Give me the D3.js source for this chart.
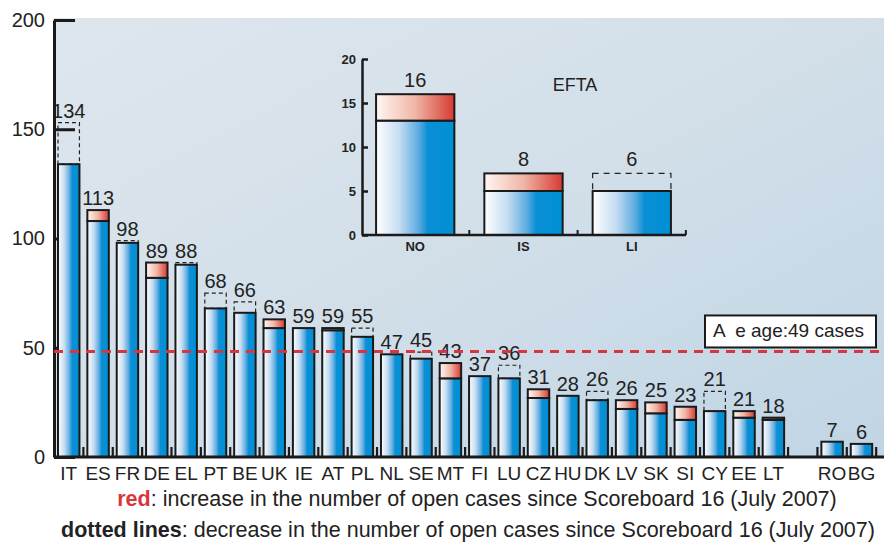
<!DOCTYPE html>
<html>
<head>
<meta charset="utf-8">
<script src="https://cdn.jsdelivr.net/npm/d3@7"></script>
<style>
  body { margin: 0; background: #fff; }
  svg { display: block; font-family: "Liberation Sans Narrow", "Liberation Sans", Arial, sans-serif; }
</style>
</head>
<body>
<svg></svg>
<script>
// EU member states, open cases now and at Scoreboard 16
let countries = ["IT","ES","FR","DE","EL","PT","BE","UK","IE","AT","PL","NL","SE","MT","FI","LU","CZ","HU","DK","LV","SK","SI","CY","EE","LT","RO","BG"];
let current  = [134,113,98,89,88,68,66,63,59,59,55,47,45,43,37,36,31,28,26,26,25,23,21,21,18,7,6];
let previous = [153,108,99,82,89,75,71,59,59,58,59,47,48,36,37,42,27,28,30,22,20,17,30,18,17,7,6];
let yTicks = [0, 50, 100, 150, 200];
let averageLine = 48.3;
let averageText = "A  e age:49 cases";

// EFTA inset
let eftaCountries = ["NO","IS","LI"];
let eftaCurrent  = [16, 7, 5];
let eftaPrevious = [13, 5, 7];
let eftaLabels   = ["16", "8", "6"];
let eftaTicks = [0, 5, 10, 15, 20];

let width = 884;
let height = 548;

let svg = d3.select("svg").attr("width", width).attr("height", height);
let defs = svg.append("defs");

function makeGradient(id, stops, x2, y2) {
  let g = defs.append("linearGradient").attr("id", id)
    .attr("x1", 0).attr("y1", 0).attr("x2", x2).attr("y2", y2);
  stops.forEach((s) => g.append("stop").attr("offset", s[0]).attr("stop-color", s[1]));
}
makeGradient("blueGrad", [[0, "#ffffff"], [0.3, "#c4dcf1"], [0.55, "#5aaae0"], [0.66, "#0a8fd5"], [1, "#0090d4"]], 1, 0);
makeGradient("redGrad", [[0, "#fff7f3"], [0.5, "#f0b5a6"], [1, "#d63a32"]], 1, 0);
makeGradient("bgGrad", [[0, "#dee6ed"], [0.5, "#d2dfe9"], [1, "#c0d5e5"]], 1, 1);

// ---------- main chart ----------
let slots = countries.slice(0, 25).concat(["gap"], countries.slice(25));
let xScale = d3.scaleBand().domain(slots).range([53.6, 876.6]).paddingInner(0.27).paddingOuter(0.15);
let yScale = d3.scaleLinear().domain([0, 200]).range([457, 20]);
let bw = xScale.bandwidth();
let step = xScale.step();

// background
svg.append("rect").attr("x", 54).attr("y", 18).attr("width", width - 54).attr("height", yScale(0) - 18)
  .attr("fill", "url(#bgGrad)");

// y axis (ticks point inwards, behind bars)
let yAxis = d3.axisLeft(yScale).tickValues(yTicks).tickSizeInner(-21).tickSizeOuter(0).tickPadding(9);
let gy = svg.append("g").attr("transform", "translate(54,0)").call(yAxis);
gy.select(".domain").attr("stroke", "#1a1a1a").attr("stroke-width", 3);
gy.selectAll(".tick line").attr("stroke", "#1a1a1a").attr("stroke-width", 3);
gy.selectAll(".tick text").attr("font-size", 20).attr("fill", "#222").attr("font-family", "Liberation Sans, sans-serif");

let rows = countries.map((c, i) => ({ c: c, cur: current[i], prev: previous[i] }));

// dotted outlines: decrease
svg.selectAll(".drop").data(rows.filter((d) => d.prev > d.cur)).enter().append("rect")
  .attr("x", (d) => xScale(d.c))
  .attr("y", (d) => yScale(d.prev))
  .attr("width", bw)
  .attr("height", (d) => yScale(d.cur) - yScale(d.prev))
  .attr("fill", "none").attr("stroke", "#222").attr("stroke-width", 1.2).attr("stroke-dasharray", "4,3");

// blue part
svg.selectAll(".bar").data(rows).enter().append("rect")
  .attr("x", (d) => xScale(d.c))
  .attr("y", (d) => yScale(Math.min(d.cur, d.prev)))
  .attr("width", bw)
  .attr("height", (d) => yScale(0) - yScale(Math.min(d.cur, d.prev)))
  .attr("fill", "url(#blueGrad)").attr("stroke", "#1a1a1a").attr("stroke-width", 2);

// red part: increase
svg.selectAll(".rise").data(rows.filter((d) => d.cur > d.prev)).enter().append("rect")
  .attr("x", (d) => xScale(d.c))
  .attr("y", (d) => yScale(d.cur))
  .attr("width", bw)
  .attr("height", (d) => yScale(d.prev) - yScale(d.cur))
  .attr("fill", "url(#redGrad)").attr("stroke", "#1a1a1a").attr("stroke-width", 2);

// value labels
svg.selectAll(".val").data(rows).enter().append("text")
  .attr("x", (d) => xScale(d.c) + bw / 2)
  .attr("y", (d) => yScale(Math.max(d.cur, d.prev)) - 5)
  .attr("text-anchor", "middle").attr("font-size", 20).attr("fill", "#222")
  .attr("font-family", "Liberation Sans, sans-serif")
  .text((d) => d.cur);

// x axis
let xAxis = d3.axisBottom(xScale).tickSize(0).tickPadding(10).tickFormat((d) => (d === "gap" ? "" : d));
let gx = svg.append("g").attr("transform", `translate(0, ${yScale(0)})`).call(xAxis);
gx.select(".domain").remove();
gx.selectAll(".tick text").attr("font-size", 19).attr("fill", "#222");
svg.append("line").attr("x1", 54).attr("x2", width).attr("y1", yScale(0)).attr("y2", yScale(0))
  .attr("stroke", "#1a1a1a").attr("stroke-width", 3);
let sepX = (d) => (d === "end" ? xScale(slots[slots.length - 1]) + bw + step * 0.135 : xScale(d) - step * 0.135);
svg.selectAll(".sep").data(slots.slice(1).concat(["end"])).enter().append("line")
  .attr("x1", sepX).attr("x2", sepX)
  .attr("y1", yScale(0)).attr("y2", yScale(0) - 10)
  .attr("stroke", "#1a1a1a").attr("stroke-width", 2.2);

// average line + box
let ya = yScale(averageLine);
svg.append("line").attr("x1", 54).attr("x2", width).attr("y1", ya).attr("y2", ya)
  .attr("stroke", "#d8353d").attr("stroke-width", 3).attr("stroke-dasharray", "9,7");
svg.append("rect").attr("x", 705).attr("y", ya - 36).attr("width", 171).attr("height", 32)
  .attr("fill", "#fff").attr("stroke", "#1a1a1a").attr("stroke-width", 2);
svg.append("text").attr("x", 713).attr("y", ya - 14).attr("font-size", 19).attr("fill", "#222")
  .attr("font-family", "Liberation Sans, sans-serif").attr("xml:space", "preserve")
  .text(averageText);

// ---------- EFTA inset ----------
let ix = d3.scaleBand().domain(eftaCountries).range([362, 685]).paddingInner(0.277).paddingOuter(0.13);
let iy = d3.scaleLinear().domain([0, 20]).range([235, 59]);
let ibw = ix.bandwidth();
let efta = eftaCountries.map((c, i) => ({ c: c, cur: eftaCurrent[i], prev: eftaPrevious[i], label: eftaLabels[i] }));

svg.selectAll(".edrop").data(efta.filter((d) => d.prev > d.cur)).enter().append("rect")
  .attr("x", (d) => ix(d.c)).attr("y", (d) => iy(d.prev))
  .attr("width", ibw).attr("height", (d) => iy(d.cur) - iy(d.prev))
  .attr("fill", "none").attr("stroke", "#222").attr("stroke-width", 1.2).attr("stroke-dasharray", "6,5");
svg.selectAll(".ebar").data(efta).enter().append("rect")
  .attr("x", (d) => ix(d.c)).attr("y", (d) => iy(Math.min(d.cur, d.prev)))
  .attr("width", ibw).attr("height", (d) => iy(0) - iy(Math.min(d.cur, d.prev)))
  .attr("fill", "url(#blueGrad)").attr("stroke", "#1a1a1a").attr("stroke-width", 2);
svg.selectAll(".erise").data(efta.filter((d) => d.cur > d.prev)).enter().append("rect")
  .attr("x", (d) => ix(d.c)).attr("y", (d) => iy(d.cur))
  .attr("width", ibw).attr("height", (d) => iy(d.prev) - iy(d.cur))
  .attr("fill", "url(#redGrad)").attr("stroke", "#1a1a1a").attr("stroke-width", 2);
svg.selectAll(".eval").data(efta).enter().append("text")
  .attr("x", (d) => ix(d.c) + ibw / 2).attr("y", (d) => iy(Math.max(d.cur, d.prev)) - 7)
  .attr("text-anchor", "middle").attr("font-size", 20).attr("fill", "#222")
  .attr("font-family", "Liberation Sans, sans-serif")
  .text((d) => d.label);

let iyAxis = d3.axisLeft(iy).tickValues(eftaTicks).tickSizeInner(-6).tickSizeOuter(0).tickPadding(6);
let giy = svg.append("g").attr("transform", "translate(362,0)").call(iyAxis);
giy.select(".domain").attr("stroke", "#1a1a1a").attr("stroke-width", 2.5);
giy.selectAll(".tick line").attr("stroke", "#1a1a1a").attr("stroke-width", 2.5);
giy.selectAll(".tick text").attr("font-size", 13).attr("font-weight", "bold").attr("fill", "#222")
  .attr("font-family", "Liberation Sans, sans-serif");

let ixAxis = d3.axisBottom(ix).tickSize(0).tickPadding(7);
let gix = svg.append("g").attr("transform", `translate(0, ${iy(0)})`).call(ixAxis);
gix.select(".domain").remove();
gix.selectAll(".tick text").attr("font-size", 13).attr("font-weight", "bold").attr("fill", "#222")
  .attr("font-family", "Liberation Sans, sans-serif");
svg.append("line").attr("x1", 362).attr("x2", 686).attr("y1", iy(0)).attr("y2", iy(0))
  .attr("stroke", "#1a1a1a").attr("stroke-width", 2.5);
svg.selectAll(".esep").data(eftaCountries).enter().append("line")
  .attr("x1", (d) => ix(d) + ibw + ix.step() * 0.138).attr("x2", (d) => ix(d) + ibw + ix.step() * 0.138)
  .attr("y1", iy(0)).attr("y2", iy(0) - 5)
  .attr("stroke", "#1a1a1a").attr("stroke-width", 2);

svg.append("text").attr("x", 575).attr("y", 91).attr("text-anchor", "middle")
  .attr("font-size", 18).attr("fill", "#222").text("EFTA");

// ---------- captions ----------
let cap1 = svg.append("text").attr("x", 477).attr("y", 506).attr("text-anchor", "middle")
  .attr("font-size", 21.5).attr("fill", "#222");
cap1.append("tspan").attr("font-weight", "bold").attr("fill", "#d8353d").text("red");
cap1.append("tspan").text(": increase in the number of open cases since Scoreboard 16 (July 2007)");

let cap2 = svg.append("text").attr("x", 468).attr("y", 537).attr("text-anchor", "middle")
  .attr("font-size", 21.5).attr("fill", "#222");
cap2.append("tspan").attr("font-weight", "bold").text("dotted lines");
cap2.append("tspan").text(": decrease in the number of open cases since Scoreboard 16 (July 2007)");
</script>
</body>
</html>
